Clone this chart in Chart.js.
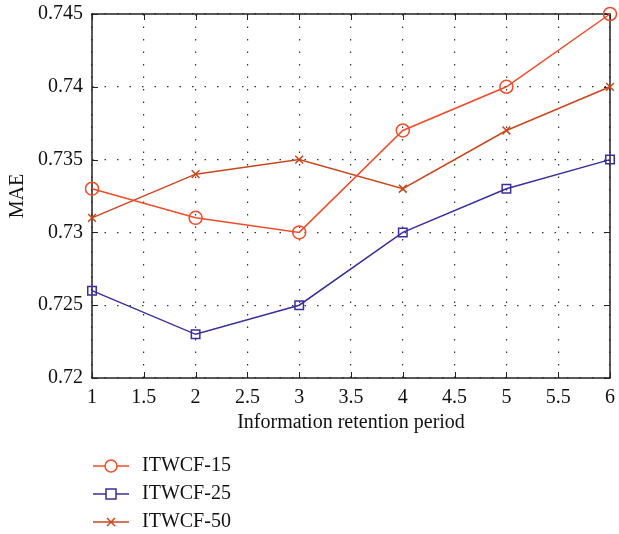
<!DOCTYPE html>
<html>
<head>
<meta charset="utf-8">
<script src="https://cdn.jsdelivr.net/npm/chart.js@4/dist/chart.umd.min.js"></script>
<style>
  html, body { margin: 0; padding: 0; background: #fff; }
  #wrap { width: 619px; height: 534px; }
</style>
</head>
<body>
<div id="wrap"><canvas id="maeChart" width="619" height="534"></canvas></div>
<script>
// data
var periods = [1, 2, 3, 4, 5, 6];
var itwcf15 = [0.733, 0.731, 0.730, 0.737, 0.740, 0.745];
var itwcf25 = [0.726, 0.723, 0.725, 0.730, 0.733, 0.735];
var itwcf50 = [0.731, 0.734, 0.735, 0.733, 0.737, 0.740];
var seriesNames = ['ITWCF-15', 'ITWCF-25', 'ITWCF-50'];

var FONT = '"Liberation Serif", "DejaVu Serif", serif';

function pts(ys) {
    return periods.map(function (x, i) { return { x: x, y: ys[i] }; });
}

// inward ticks on all four sides, box, axis titles and the legend
var frame = {
    id: 'frame',
    beforeDatasetsDraw: function (chart) {
        var c = chart.ctx, a = chart.chartArea;
        var xs = chart.scales.x, ys = chart.scales.y;
        c.save();
        c.strokeStyle = '#222';
        c.lineWidth = 1.5;
        c.strokeRect(a.left, a.top, a.right - a.left, a.bottom - a.top);
        c.lineWidth = 1;
        xs.ticks.forEach(function (t) {
            var px = Math.round(xs.getPixelForValue(t.value)) + 0.5;
            c.beginPath();
            c.moveTo(px, a.bottom); c.lineTo(px, a.bottom - 6);
            c.moveTo(px, a.top); c.lineTo(px, a.top + 6);
            c.stroke();
        });
        ys.ticks.forEach(function (t) {
            var py = Math.round(ys.getPixelForValue(t.value)) + 0.5;
            c.beginPath();
            c.moveTo(a.left, py); c.lineTo(a.left + 6, py);
            c.moveTo(a.right, py); c.lineTo(a.right - 6, py);
            c.stroke();
        });
        c.restore();
    },
    afterDraw: function (chart) {
        var c = chart.ctx, a = chart.chartArea;
        c.save();
        c.fillStyle = '#111';
        c.font = '20px ' + FONT;
        c.textAlign = 'center';
        c.textBaseline = 'middle';
        c.fillText('Information retention period', (a.left + a.right) / 2, 423);
        c.save();
        c.translate(18, (a.top + a.bottom) / 2);
        c.rotate(-Math.PI / 2);
        c.fillText('MAE', 0, 0);
        c.restore();

        // legend: line with marker in the middle
        chart.data.datasets.forEach(function (ds, i) {
            var y = 466 + i * 28;
            c.strokeStyle = ds.borderColor;
            c.lineWidth = 1.5;
            c.beginPath();
            c.moveTo(93, y); c.lineTo(129, y);
            c.stroke();
            c.beginPath();
            if (ds.pointStyle === 'circle') {
                c.fillStyle = '#fff';
                c.arc(111, y, 6, 0, Math.PI * 2);
                c.fill();
                c.stroke();
            } else if (ds.pointStyle === 'rect') {
                c.fillStyle = '#fff';
                c.fillRect(106, y - 5, 10, 10);
                c.strokeRect(106, y - 5, 10, 10);
            } else {
                c.moveTo(107, y - 4); c.lineTo(115, y + 4);
                c.moveTo(115, y - 4); c.lineTo(107, y + 4);
                c.stroke();
            }
            c.fillStyle = '#111';
            c.textAlign = 'left';
            c.fillText(ds.label, 142, y);
        });
        c.restore();
    }
};

var colors = ['#f04b2a', '#3a2e9e', '#c9461c'];
var styles = ['circle', 'rect', 'crossRot'];
var radii = [6.5, 6, 5.5];

function noOverhang(s) {
    s.paddingTop = 0; s.paddingBottom = 0;
    s.paddingLeft = 0; s.paddingRight = 0;
}

var ctx = document.getElementById('maeChart').getContext('2d');
var maeChart = new Chart(ctx, {
    type: 'line',
    data: {
        datasets: [itwcf15, itwcf25, itwcf50].map(function (vals, i) {
            return {
                label: seriesNames[i],
                data: pts(vals),
                borderColor: colors[i],
                backgroundColor: 'rgba(255,255,255,0)',
                borderWidth: 1.5,
                pointStyle: styles[i],
                pointRadius: radii[i],
                pointBorderWidth: 1.5,
                pointBorderColor: colors[i],
                pointBackgroundColor: 'rgba(255,255,255,0)',
                tension: 0,
                clip: false
            };
        })
    },
    options: {
        responsive: false,
        animation: false,
        layout: { padding: { top: 14, right: 9, left: 0, bottom: 0 } },
        plugins: {
            legend: { display: false },
            tooltip: { enabled: false }
        },
        scales: {
            x: {
                type: 'linear',
                min: 1,
                max: 6,
                afterFit: function (s) { s.height = 156; noOverhang(s); },
                ticks: {
                    stepSize: 0.5,
                    padding: 8,
                    color: '#111',
                    font: { family: FONT, size: 20 },
                    maxRotation: 0,
                    callback: function (v) { return String(+v.toFixed(2)); }
                },
                border: { display: false, dash: [1.5, 11] },
                grid: { color: '#333', lineWidth: 1.2, drawTicks: false }
            },
            y: {
                min: 0.72,
                max: 0.745,
                afterFit: function (s) { s.width = 92; noOverhang(s); },
                ticks: {
                    stepSize: 0.005,
                    padding: 9,
                    color: '#111',
                    font: { family: FONT, size: 20 },
                    callback: function (v) { return String(+v.toFixed(3)); }
                },
                border: { display: false, dash: [1.5, 11] },
                grid: { color: '#333', lineWidth: 1.2, drawTicks: false }
            }
        }
    },
    plugins: [frame]
});
</script>
</body>
</html>
